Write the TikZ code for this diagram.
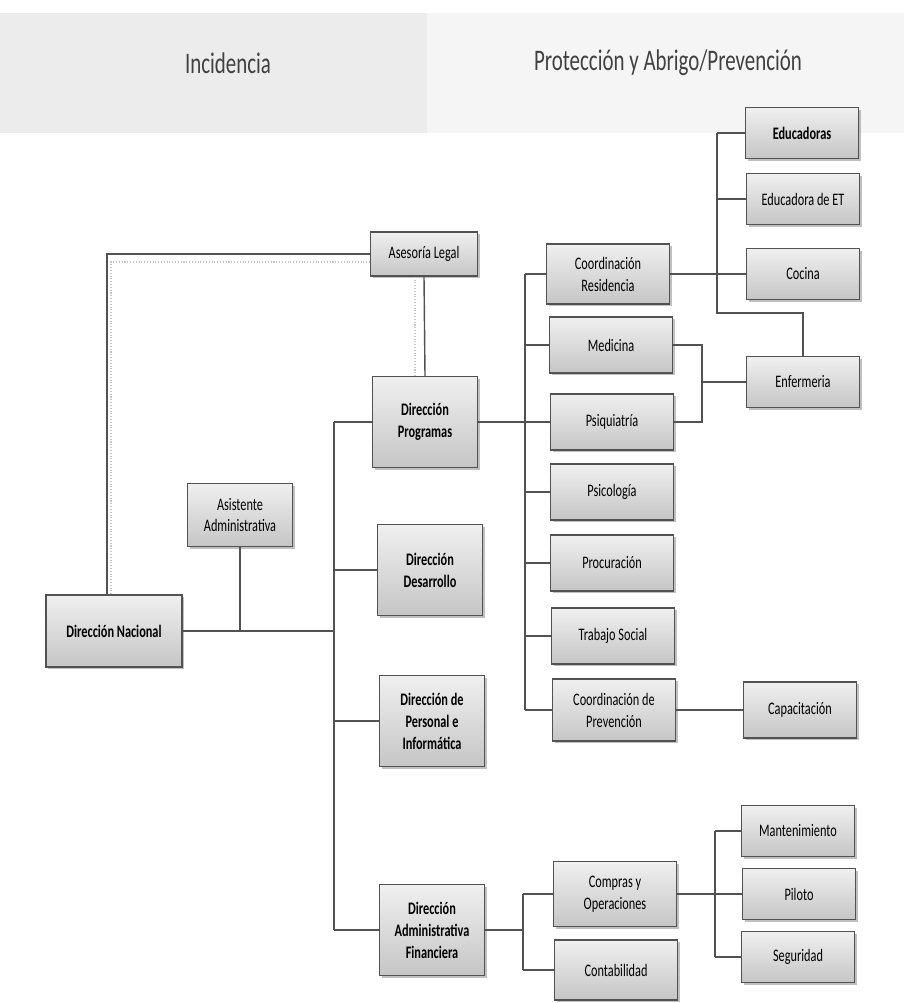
\documentclass[tikz,border=0pt]{standalone}
\usepackage{fontspec}
\setmainfont{Carlito}[FakeStretch=0.7]
\usepackage{xcolor}
\usepackage{tikz}
\usetikzlibrary{calc,shadows}
\definecolor{boxline}{gray}{0.32}
\definecolor{linkgray}{gray}{0.32}
\definecolor{headtxt}{gray}{0.25}
\tikzset{
  unit/.style={draw=boxline,line width=0.8pt,top color=gray!12,bottom color=gray!45,
    drop shadow={shadow xshift=1.3pt,shadow yshift=-1.3pt,opacity=0.45,fill=black!55},
    align=center,inner sep=1pt,font=\fontsize{10}{12.5}\selectfont,text=black},
  midbox/.style={unit,minimum width=2.46cm,minimum height=1.12cm},
  sidebox/.style={unit,minimum width=2.26cm,minimum height=1.02cm},
  dirbox/.style={unit,minimum width=2.1cm,minimum height=1.82cm,font=\fontsize{10}{12.5}\selectfont\bfseries},
  link/.style={linkgray,line width=0.8pt},
  faintln/.style={gray!45,line width=0.6pt,densely dotted},
  headlab/.style={text=headtxt,font=\fontsize{17}{20}\selectfont},
}
\begin{document}
\begin{tikzpicture}[x=0.02cm,y=-0.02cm]
  \useasboundingbox (0,0) rectangle (904,1003);
  % --- franja de encabezado ---
  \fill[gray!15] (0,13) rectangle (427,133);
  \fill[gray!8] (427,13) rectangle (904,133);
  \node[headlab] (hinc) at (228,63) {Incidencia};
  \node[headlab] (hpro) at (668,63) {Protección y Abrigo/Prevención};

  % --- direcciones ---
  \node[unit,minimum width=2.72cm,minimum height=1.44cm,font=\fontsize{10}{12.5}\selectfont\bfseries]
    (nacional) at (114,631) {Dirección Nacional};
  \node[unit,minimum width=2.1cm,minimum height=1.26cm] (asistente) at (240,515) {Asistente\\Administrativa};
  \node[unit,minimum width=2.14cm,minimum height=0.88cm] (asesoria) at (424,254) {Asesoría Legal};
  \node[dirbox] (programas)  at (425,422) {Dirección\\Programas};
  \node[dirbox] (desarrollo) at (430,570) {Dirección\\Desarrollo};
  \node[dirbox] (personal)   at (432,721) {Dirección de\\Personal e\\Informática};
  \node[dirbox] (admfin)     at (432,930) {Dirección\\Administrativa\\Financiera};

  % --- programas ---
  \node[midbox,minimum height=1.2cm] (coordres) at (608,274) {Coordinación\\Residencia};
  \node[midbox] (medicina) at (611,345) {Medicina};
  \node[midbox] (psiq)     at (612,422) {Psiquiatría};
  \node[midbox] (psicol)   at (612,492) {Psicología};
  \node[midbox] (procur)   at (612,563) {Procuración};
  \node[midbox] (trabajo)  at (613,636) {Trabajo Social};
  \node[midbox,minimum height=1.24cm] (coordprev) at (614,710) {Coordinación de\\Prevención};

  \node[sidebox,font=\fontsize{10}{12.5}\selectfont\bfseries] (educ) at (802,133) {Educadoras};
  \node[sidebox] (educet) at (803,199) {Educadora de ET};
  \node[sidebox] (cocina) at (803,274) {Cocina};
  \node[sidebox] (enferm) at (803,382) {Enfermeria};
  \node[sidebox,minimum height=1.12cm] (capac) at (800,710) {Capacitación};

  % --- administrativa financiera ---
  \node[midbox,minimum height=1.3cm] (compras) at (615,894) {Compras y\\Operaciones};
  \node[midbox,minimum height=1.2cm] (contab)  at (616,970) {Contabilidad};
  \node[sidebox] (mant)   at (798,831) {Mantenimiento};
  \node[sidebox] (piloto) at (799,894) {Piloto};
  \node[sidebox] (segur)  at (798,957) {Seguridad};

  % --- conectores ---
  \coordinate (spine)  at (334,0);
  \coordinate (pspine) at (525,0);
  \coordinate (rturn)  at (717,313);
  \coordinate (mspine) at (702,0);
  \coordinate (aspine) at (523,0);
  \coordinate (cspine) at (715,0);

  \draw[faintln] ($(nacional.north)+(-3,0)$) |- ($(asesoria.west)+(0,8)$);
  \draw[faintln] ($(asesoria.south)+(-9,0)$) -- ($(programas.north)+(-10,0)$);
  \draw[link] ($(nacional.north)+(-7,0)$) |- (asesoria.west);
  \draw[link] (asesoria.south) -- (programas.north);
  \draw[link] (nacional.east) -- (nacional.east -| spine);
  \draw[link] (asistente.south) -- (asistente.south |- nacional.east);
  \draw[link] (programas.west -| spine) -- (admfin.west -| spine);
  \foreach \n in {programas,desarrollo,personal,admfin}
    \draw[link] (\n.west) -- (\n.west -| spine);

  \draw[link] (programas.east) -- (psiq.west);
  \draw[link] (coordres.west -| pspine) -- (coordprev.west -| pspine);
  \foreach \n in {coordres,medicina,psicol,procur,trabajo,coordprev}
    \draw[link] (\n.west) -- (\n.west -| pspine);

  \draw[link] (coordres.east) -- (cocina.west);
  \draw[link] (educ.west -| rturn) -- (rturn) -| (enferm.north);
  \foreach \n in {educ,educet}
    \draw[link] (\n.west) -- (\n.west -| rturn);

  \draw[link] (medicina.east) -- (medicina.east -| mspine) -- (psiq.east -| mspine) -- (psiq.east);
  \draw[link] (enferm.west) -- (enferm.west -| mspine);

  \draw[link] (coordprev.east) -- (capac.west);

  \draw[link] (admfin.east) -- (admfin.east -| aspine);
  \draw[link] (compras.west -| aspine) -- (contab.west -| aspine);
  \foreach \n in {compras,contab}
    \draw[link] (\n.west) -- (\n.west -| aspine);

  \draw[link] (compras.east) -- (piloto.west);
  \draw[link] (mant.west -| cspine) -- (segur.west -| cspine);
  \foreach \n in {mant,segur}
    \draw[link] (\n.west) -- (\n.west -| cspine);
\end{tikzpicture}
\end{document}
